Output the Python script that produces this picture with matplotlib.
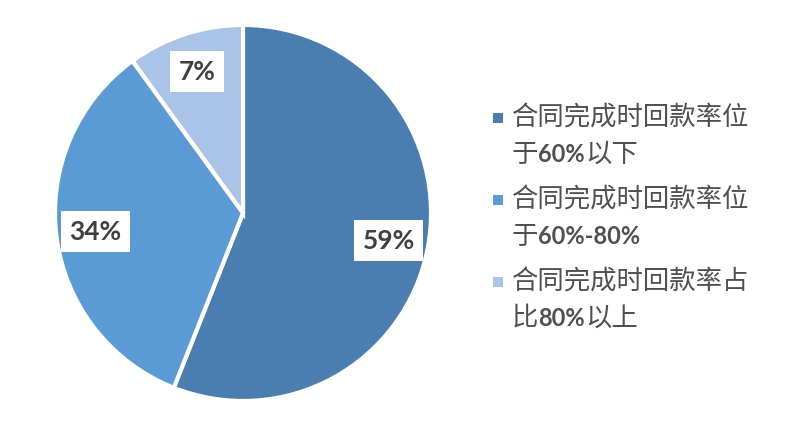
import re
import matplotlib
matplotlib.use("Agg")
import matplotlib.pyplot as plt
from matplotlib.patches import Rectangle
from matplotlib.offsetbox import TextArea, HPacker, AnnotationBbox

plt.rcParams['font.family'] = ['Noto Sans CJK SC', 'DejaVu Sans']

# data
names = ['合同完成时回款率位\n于60%以下', '合同完成时回款率位\n于60%-80%', '合同完成时回款率占\n比80%以上']
shares = [56, 34, 10]          # slice sizes as drawn
pct_labels = ['59%', '34%', '7%']
colors = ['#4A7EB1', '#5B9BD5', '#A9C4E6']

W, H = 790, 445
fig = plt.figure(figsize=(W / 100, H / 100), dpi=100)
ax = fig.add_axes([0.0696, 0.0989, 0.476, 0.845])

wedges, texts = ax.pie(shares, labels=pct_labels, colors=colors, startangle=90,
                       counterclock=False, labeldistance=0.79,
                       wedgeprops=dict(edgecolor='white', linewidth=3))
for t in texts:
    t.set_ha('center')
    t.set_va('center')
    t.set_fontsize(19)
    t.set_fontweight('bold')
    t.set_family(['Lato', 'DejaVu Sans'])
    t.set_color('#404040')
    t.set_bbox(dict(facecolor='white', edgecolor='none', pad=6))
ax.set_xlim(-1.0, 1.0)
ax.set_ylim(-1.0, 1.0)
ax.set_aspect('equal')

# legend drawn by hand: square aligned with first line, bold digits
txt_col = '#505050'
cjk = dict(fontsize=19, color=txt_col, family=['Noto Sans CJK SC', 'DejaVu Sans'])
num = dict(fontsize=17, color=txt_col, fontweight='bold', family=['Lato', 'DejaVu Sans'])

for i, (name, c) in enumerate(zip(names, colors)):
    y_top = 118 + i * 82
    fig.add_artist(Rectangle((493 / W, 1 - (y_top + 5) / H), 10 / W, 10 / H,
                             facecolor=c, edgecolor='none', transform=fig.transFigure))
    for j, line in enumerate(name.split('\n')):
        parts = [p for p in re.split(r'([0-9%\-]+)', line) if p]
        boxes = [TextArea(p, textprops=num if re.fullmatch(r'[0-9%\-]+', p) else cjk)
                 for p in parts]
        row = HPacker(children=boxes, align='baseline', pad=0, sep=0)
        ab = AnnotationBbox(row, (512 / W, 1 - (y_top + j * 36) / H),
                            xycoords='figure fraction', box_alignment=(0, 0.5),
                            frameon=False, pad=0)
        fig.add_artist(ab)

fig.savefig('out.png', dpi=100)
